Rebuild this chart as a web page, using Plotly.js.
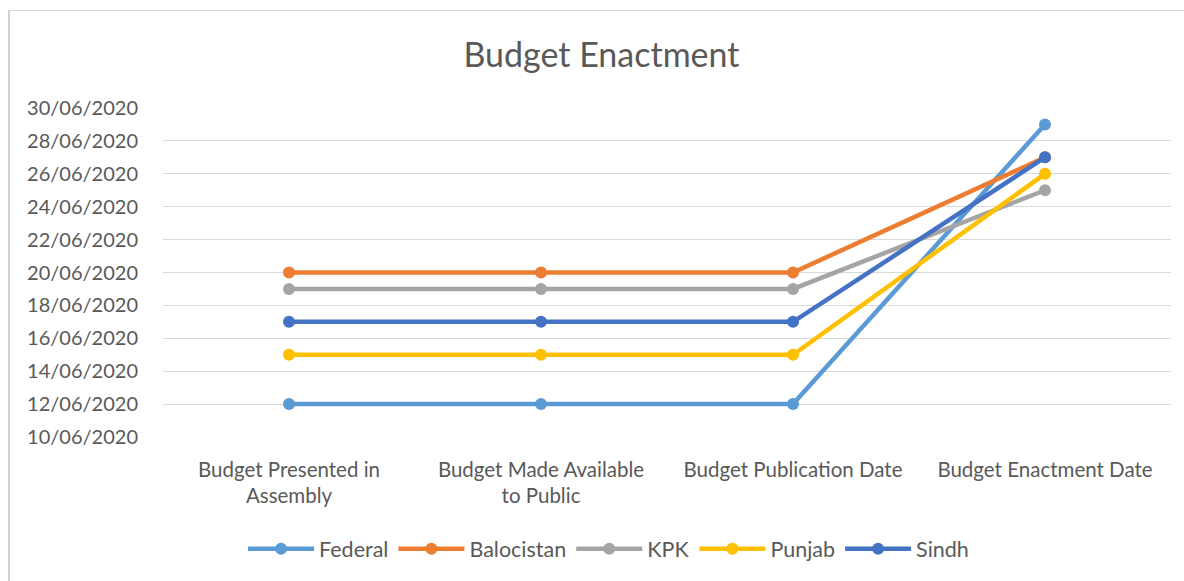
<!DOCTYPE html>
<html>
<head>
<meta charset="utf-8">
<script src="https://cdn.plot.ly/plotly-3.0.1.min.js"></script>
<style>
  html, body { margin: 0; padding: 0; background: #ffffff; }
  #wrap { position: relative; width: 1184px; height: 581px; overflow: hidden; }
  #chart { position: absolute; left: 0; top: 0; width: 1184px; height: 581px; }
  #frame { position: absolute; left: 8px; top: 10px; width: 1190px; height: 590px; border: 1px solid #d9d9d9; border-left: 2px solid #d0d0d0; pointer-events: none; }
</style>
</head>
<body>
<div id="wrap">
  <div id="chart"></div>
  <div id="frame"></div>
</div>
<script>
const categories = [
  "Budget Presented in<br>Assembly",
  "Budget Made Available<br>to Public",
  "Budget Publication Date",
  "Budget Enactment Date"
];
const seriesNames = ["Federal", "Balocistan", "KPK", "Punjab", "Sindh"];
const federal    = ["2020-06-12", "2020-06-12", "2020-06-12", "2020-06-29"];
const balocistan = ["2020-06-20", "2020-06-20", "2020-06-20", "2020-06-27"];
const kpk        = ["2020-06-19", "2020-06-19", "2020-06-19", "2020-06-25"];
const punjab     = ["2020-06-15", "2020-06-15", "2020-06-15", "2020-06-26"];
const sindh      = ["2020-06-17", "2020-06-17", "2020-06-17", "2020-06-27"];
const seriesValues = [federal, balocistan, kpk, punjab, sindh];
const colors = ["#5B9BD5", "#ED7D31", "#A5A5A5", "#FFC000", "#4472C4"];

const traces = seriesNames.map((name, i) => ({
  type: "scatter",
  mode: "lines+markers",
  name: name,
  x: categories,
  y: seriesValues[i],
  line: { color: colors[i], width: 4.5 },
  marker: { color: colors[i], size: 12 },
  hoverinfo: "skip"
}));

const layout = {
  width: 1184,
  height: 581,
  margin: { l: 163, r: 13, t: 108, b: 144 },
  paper_bgcolor: "#ffffff",
  plot_bgcolor: "#ffffff",
  font: { family: "Lato, 'Open Sans', sans-serif", color: "#595959", size: 20 },
  title: {
    text: "Budget Enactment",
    font: { family: "Lato, 'Open Sans', sans-serif", size: 34, color: "#595959" },
    x: 0.508, xanchor: "center",
    y: 0.905, yanchor: "middle"
  },
  xaxis: {
    type: "category",
    range: [-0.5, 3.5],
    showgrid: false,
    zeroline: false,
    showline: false,
    ticks: "outside",
    ticklen: 14,
    tickcolor: "rgba(0,0,0,0)",
    tickfont: { size: 20.5, color: "#595959" },
    fixedrange: true
  },
  yaxis: {
    type: "date",
    range: ["2020-06-10", "2020-06-30"],
    tick0: "2020-06-10",
    dtick: 172800000,
    tickformat: "%d/%m/%Y",
    showgrid: true,
    gridcolor: "#d9d9d9",
    gridwidth: 1,
    zeroline: false,
    showline: false,
    ticks: "outside",
    ticklen: 20,
    tickcolor: "rgba(0,0,0,0)",
    tickfont: { size: 20, color: "#595959" },
    fixedrange: true
  },
  showlegend: true,
  legend: {
    orientation: "h",
    x: 0.442, xanchor: "center",
    y: -0.34, yanchor: "middle",
    font: { size: 21.5, color: "#595959" },
    itemwidth: 66,
    traceorder: "normal"
  },
  hovermode: false
};

Plotly.newPlot("chart", traces, layout, { displayModeBar: false, staticPlot: true });
</script>
</body>
</html>
